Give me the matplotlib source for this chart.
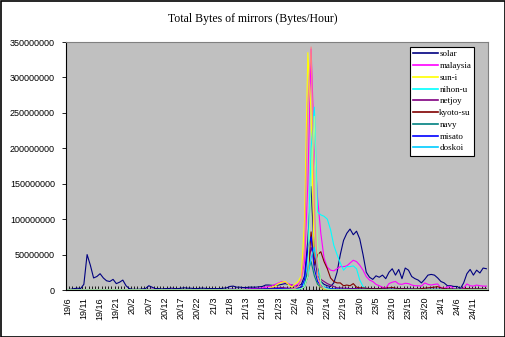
"""
Total Bytes of mirrors (Bytes/Hour) - hourly line chart, Excel style
"""
import numpy as np
import matplotlib
matplotlib.use('Agg')
import matplotlib.pyplot as plt
from matplotlib.patches import Rectangle

plt.rcParams['font.family'] = 'Liberation Sans'
plt.rcParams['font.size'] = 7

# hourly values in millions of bytes, 130 hours starting at 19/6
solar = [
    0.5, 1.0, 2.0, 2.5, 2.0, 8.0, 50.0, 35.0, 17.0, 19.0,
    23.0, 17.0, 13.0, 12.0, 15.0, 9.0, 11.0, 14.0, 6.0, 2.0,
    1.0, 1.0, 1.0, 1.5, 2.0, 6.0, 4.0, 2.0, 2.0, 1.5,
    2.0, 2.0, 2.5, 2.0, 2.0, 2.5, 3.0, 2.5, 2.5, 2.0,
    2.0, 2.5, 2.5, 2.0, 2.0, 2.0, 2.0, 2.0, 2.5, 3.0,
    5.0, 5.5, 4.0, 4.0, 3.5, 3.5, 4.0, 4.0, 4.0, 4.5,
    5.0, 7.0, 7.0, 6.5, 6.5, 7.0, 8.0, 9.0, 8.0, 7.0,
    6.0, 6.0, 8.0, 20.0, 70.0, 146.0, 50.0, 20.0, 12.0, 8.0,
    6.0, 5.0, 10.0, 25.0, 50.0, 70.0, 80.0, 86.0, 78.0, 83.0,
    72.0, 50.0, 25.0, 18.0, 15.0, 20.0, 18.0, 21.0, 16.0, 25.0,
    30.0, 21.0, 29.0, 16.0, 31.0, 28.0, 19.0, 16.0, 14.0, 10.0,
    15.0, 21.0, 22.0, 21.0, 17.0, 12.0, 10.0, 6.0, 6.0, 5.0,
    5.0, 2.0, 10.0, 23.0, 29.0, 21.0, 28.0, 24.0, 31.0, 30.0,
]
malaysia = [
    0.2, 0.2, 0.2, 0.2, 0.2, 0.2, 0.2, 0.2, 0.2, 0.2,
    0.2, 0.2, 0.2, 0.2, 0.2, 0.2, 0.2, 0.2, 0.2, 0.2,
    0.2, 0.2, 0.2, 0.2, 0.2, 0.8, 1.0, 0.6, 0.5, 0.5,
    0.5, 0.6, 0.8, 0.6, 0.5, 0.5, 0.6, 0.5, 0.5, 0.5,
    0.5, 0.6, 0.5, 0.5, 0.5, 0.6, 0.5, 0.5, 0.5, 0.6,
    0.8, 0.8, 0.6, 0.6, 0.8, 1.0, 1.5, 2.0, 2.0, 2.5,
    3.0, 4.0, 5.0, 6.0, 8.0, 10.0, 12.0, 11.0, 9.0, 7.0,
    6.0, 8.0, 15.0, 40.0, 150.0, 340.0, 200.0, 130.0, 80.0, 45.0,
    32.0, 28.0, 27.0, 30.0, 33.0, 33.0, 34.0, 38.0, 42.0, 40.0,
    35.0, 28.0, 19.0, 14.0, 12.0, 8.0, 6.0, 4.0, 2.5, 9.0,
    11.0, 12.0, 8.5, 8.0, 9.5, 9.0, 7.0, 6.0, 6.0, 5.5,
    10.0, 8.0, 7.0, 8.0, 8.5, 3.0, 2.5, 4.0, 5.0, 2.0,
    0.5, 0.5, 3.0, 8.5, 6.0, 5.5, 7.0, 6.0, 5.5, 5.5,
]
sun_i = [
    0.1, 0.1, 0.1, 0.1, 0.1, 0.1, 0.1, 0.1, 0.1, 0.1,
    0.1, 0.1, 0.1, 0.1, 0.1, 0.1, 0.1, 0.1, 0.1, 0.1,
    0.1, 0.1, 0.1, 0.1, 0.1, 0.1, 0.1, 0.1, 0.1, 0.1,
    0.1, 0.1, 0.1, 0.1, 0.1, 0.1, 0.1, 0.1, 0.1, 0.1,
    0.1, 0.1, 0.1, 0.1, 0.1, 0.1, 0.1, 0.1, 0.1, 0.1,
    0.1, 0.1, 0.1, 0.1, 0.1, 0.2, 0.2, 0.3, 0.3, 0.4,
    0.5, 1.0, 2.0, 4.0, 6.0, 9.0, 11.0, 12.0, 8.0, 4.0,
    8.0, 12.0, 20.0, 100.0, 335.0, 250.0, 30.0, 8.0, 3.0, 1.0,
    0.5, 0.4, 0.3, 0.3, 0.3, 0.3, 0.3, 0.3, 0.3, 0.3,
    0.3, 0.3, 0.3, 0.3, 0.3, 0.3, 0.3, 0.3, 0.3, 0.3,
    0.3, 0.3, 0.3, 0.3, 0.3, 0.3, 0.3, 0.3, 0.3, 0.3,
    0.3, 0.3, 0.3, 0.3, 0.3, 0.3, 0.3, 0.3, 0.3, 0.3,
    0.3, 0.3, 0.3, 0.3, 0.3, 0.3, 0.3, 0.3, 0.3, 0.3,
]
nihon_u = [
    0.1, 0.1, 0.1, 0.1, 0.1, 0.1, 0.1, 0.1, 0.1, 0.1,
    0.1, 0.1, 0.1, 0.1, 0.1, 0.1, 0.1, 0.1, 0.1, 0.1,
    0.1, 0.1, 0.1, 0.1, 0.1, 0.5, 0.6, 0.5, 0.5, 0.4,
    0.5, 0.5, 0.5, 0.4, 0.5, 0.5, 0.5, 0.5, 0.4, 0.5,
    0.5, 0.5, 0.5, 0.5, 0.4, 0.5, 0.5, 0.5, 0.5, 0.5,
    0.5, 0.6, 0.5, 0.5, 0.5, 0.5, 0.6, 0.5, 0.5, 0.6,
    0.8, 1.0, 1.2, 1.5, 1.5, 2.0, 2.0, 1.8, 1.5, 1.5,
    2.0, 2.0, 3.0, 10.0, 40.0, 200.0, 258.0, 110.0, 106.0, 104.0,
    100.0, 85.0, 63.0, 50.0, 38.0, 28.0, 33.0, 33.0, 34.0, 30.0,
    14.0, 5.0, 2.0, 1.0, 1.0, 1.0, 1.0, 1.0, 1.0, 1.0,
    1.0, 1.0, 1.0, 1.0, 1.0, 1.0, 1.0, 1.0, 1.0, 1.0,
    1.0, 1.0, 1.0, 1.0, 1.0, 1.0, 1.0, 1.0, 1.0, 1.0,
    1.0, 1.0, 1.0, 1.0, 1.0, 1.0, 1.0, 1.0, 1.0, 1.0,
]
netjoy = [
    0.3, 0.3, 0.3, 0.3, 0.3, 0.3, 0.3, 0.3, 0.3, 0.3,
    0.3, 0.3, 0.3, 0.3, 0.3, 0.3, 0.3, 0.3, 0.3, 0.3,
    0.3, 0.3, 0.3, 0.3, 0.3, 0.6, 0.8, 0.6, 0.5, 0.5,
    0.5, 0.5, 0.6, 0.5, 0.5, 0.5, 0.5, 0.6, 0.5, 0.5,
    0.5, 0.5, 0.5, 0.6, 0.5, 0.5, 0.5, 0.5, 0.5, 0.6,
    0.8, 1.0, 0.8, 0.8, 0.8, 1.0, 1.0, 1.2, 1.2, 1.5,
    1.5, 2.0, 2.0, 2.5, 3.0, 3.0, 3.5, 3.0, 2.5, 2.5,
    2.5, 3.0, 4.0, 5.0, 30.0, 60.0, 45.0, 31.0, 15.0, 12.0,
    9.0, 7.0, 5.0, 3.0, 3.0, 2.5, 2.5, 2.0, 2.0, 2.0,
    1.5, 1.5, 1.5, 1.0, 1.0, 1.0, 1.0, 1.0, 1.0, 1.0,
    1.0, 1.0, 1.0, 1.0, 1.0, 1.0, 1.0, 1.0, 1.0, 1.0,
    1.0, 1.0, 1.0, 1.0, 1.0, 1.0, 1.0, 1.0, 1.0, 1.0,
    1.0, 1.0, 1.0, 1.0, 1.0, 1.0, 1.0, 1.0, 1.0, 1.0,
]
kyoto_su = [
    0.1, 0.1, 0.1, 0.1, 0.1, 0.1, 0.1, 0.1, 0.1, 0.1,
    0.1, 0.1, 0.1, 0.1, 0.1, 0.1, 0.1, 0.1, 0.1, 0.1,
    0.1, 0.1, 0.1, 0.1, 0.1, 0.1, 0.1, 0.1, 0.1, 0.1,
    0.1, 0.1, 0.1, 0.1, 0.1, 0.1, 0.1, 0.1, 0.1, 0.1,
    0.1, 0.1, 0.1, 0.1, 0.1, 0.1, 0.1, 0.1, 0.1, 0.5,
    0.8, 0.5, 0.2, 0.2, 0.2, 0.3, 0.3, 0.4, 0.5, 0.5,
    0.6, 0.8, 1.0, 1.0, 1.2, 1.5, 1.5, 2.0, 1.5, 1.5,
    1.5, 2.0, 3.0, 5.0, 20.0, 82.0, 35.0, 50.0, 54.0, 40.0,
    30.0, 17.0, 12.0, 10.0, 10.0, 6.0, 7.0, 6.0, 9.0, 4.0,
    3.0, 3.0, 2.5, 2.0, 2.0, 2.0, 2.0, 2.5, 2.5, 3.0,
    3.5, 2.5, 2.0, 2.0, 2.0, 1.5, 1.5, 1.5, 1.5, 2.0,
    2.5, 3.0, 3.5, 4.0, 4.7, 3.0, 2.0, 1.5, 1.5, 1.0,
    1.0, 1.0, 1.5, 2.0, 1.5, 1.5, 1.5, 1.5, 1.5, 1.5,
]
navy = [
    0.2, 0.2, 0.2, 0.2, 0.2, 0.2, 0.2, 0.2, 0.2, 0.2,
    0.2, 0.2, 0.2, 0.2, 0.2, 0.2, 0.2, 0.2, 0.2, 0.2,
    0.2, 0.2, 0.2, 0.2, 0.2, 0.5, 0.6, 0.4, 0.4, 0.4,
    0.4, 0.4, 0.4, 0.4, 0.4, 0.4, 0.4, 0.4, 0.4, 0.4,
    0.4, 0.4, 0.4, 0.4, 0.4, 0.4, 0.4, 0.4, 0.4, 0.4,
    0.5, 0.5, 0.5, 0.5, 0.5, 0.5, 0.5, 0.5, 0.5, 0.6,
    0.6, 0.8, 0.8, 0.8, 1.0, 1.0, 1.0, 1.0, 1.0, 1.0,
    1.0, 1.5, 2.0, 5.0, 26.0, 40.0, 20.0, 8.0, 4.0, 2.0,
    1.5, 1.0, 1.0, 0.8, 0.8, 0.8, 0.6, 0.6, 0.6, 0.6,
    0.5, 0.5, 0.5, 0.5, 0.5, 0.5, 0.5, 0.5, 0.5, 0.5,
    0.5, 0.5, 0.5, 0.5, 0.5, 0.5, 0.5, 0.5, 0.5, 0.5,
    0.5, 0.5, 0.5, 0.5, 0.5, 0.5, 0.5, 0.5, 0.5, 0.5,
    0.5, 0.5, 0.5, 0.5, 0.5, 0.5, 0.5, 0.5, 0.5, 0.5,
]
misato = [
    0.5, 0.6, 0.5, 0.5, 0.6, 0.5, 0.5, 0.5, 0.6, 0.5,
    0.5, 0.5, 0.5, 0.6, 0.5, 0.5, 0.5, 0.5, 0.5, 0.5,
    0.5, 0.5, 0.5, 0.5, 0.5, 0.8, 0.8, 0.6, 0.6, 0.5,
    0.5, 0.6, 0.6, 0.5, 0.5, 0.6, 0.6, 0.5, 0.5, 0.5,
    0.5, 0.5, 0.6, 0.6, 0.5, 0.5, 0.5, 0.5, 0.5, 0.8,
    1.0, 1.0, 0.8, 0.8, 0.8, 1.0, 1.0, 1.0, 1.0, 1.2,
    1.2, 1.5, 1.5, 1.5, 1.8, 2.0, 2.0, 2.0, 1.8, 1.8,
    2.0, 2.5, 4.0, 15.0, 59.0, 75.0, 30.0, 12.0, 6.0, 4.0,
    3.0, 2.0, 1.5, 1.5, 1.2, 1.0, 1.0, 1.0, 1.0, 1.0,
    1.0, 1.0, 1.0, 1.0, 1.0, 1.0, 1.0, 1.0, 1.0, 1.0,
    1.0, 1.0, 1.0, 1.0, 1.0, 1.0, 1.0, 0.8, 0.8, 0.8,
    0.8, 0.8, 0.8, 0.8, 0.8, 0.8, 0.8, 0.8, 0.8, 0.8,
    0.8, 0.8, 0.8, 0.8, 0.8, 0.8, 0.8, 0.8, 0.8, 0.8,
]
doskoi = [
    0.2, 0.2, 0.2, 0.2, 0.2, 0.2, 0.2, 0.2, 0.2, 0.2,
    0.2, 0.2, 0.2, 0.2, 0.2, 0.2, 0.2, 0.2, 0.2, 0.2,
    0.2, 0.2, 0.2, 0.2, 0.2, 0.3, 0.3, 0.3, 0.3, 0.3,
    0.3, 0.3, 0.3, 0.3, 0.3, 0.3, 0.3, 0.3, 0.3, 0.3,
    0.3, 0.3, 0.3, 0.3, 0.3, 0.3, 0.3, 0.3, 0.3, 0.3,
    0.3, 0.3, 0.3, 0.3, 0.3, 0.3, 0.3, 0.3, 0.3, 0.3,
    0.4, 0.4, 0.5, 0.5, 0.5, 0.6, 0.6, 0.6, 0.6, 0.6,
    0.8, 1.0, 2.0, 5.0, 20.0, 45.0, 60.0, 30.0, 10.0, 4.0,
    2.0, 1.0, 0.8, 0.6, 0.6, 0.6, 0.5, 0.5, 0.5, 0.5,
    0.5, 0.5, 0.5, 0.5, 0.5, 0.5, 0.5, 0.5, 0.5, 0.5,
    0.5, 0.5, 0.5, 0.5, 0.5, 0.5, 0.5, 0.5, 0.5, 0.5,
    0.5, 0.5, 0.5, 0.5, 0.5, 0.5, 0.5, 0.5, 0.5, 0.5,
    0.5, 0.5, 0.5, 0.5, 0.5, 0.5, 0.5, 0.5, 0.5, 0.5,
]
# two more series that are drawn but cut off the legend box
extra_pink = [
    0.1, 0.1, 0.1, 0.1, 0.1, 0.1, 0.1, 0.1, 0.1, 0.1,
    0.1, 0.1, 0.1, 0.1, 0.1, 0.1, 0.1, 0.1, 0.1, 0.1,
    0.1, 0.1, 0.1, 0.1, 0.1, 0.1, 0.1, 0.1, 0.1, 0.1,
    0.1, 0.1, 0.1, 0.1, 0.1, 0.1, 0.1, 0.1, 0.1, 0.1,
    0.1, 0.1, 0.1, 0.1, 0.1, 0.1, 0.1, 0.1, 0.1, 0.1,
    0.1, 0.1, 0.1, 0.1, 0.1, 0.1, 0.1, 0.1, 0.1, 0.1,
    0.2, 0.2, 0.3, 0.3, 0.5, 0.5, 0.8, 1.0, 1.0, 1.5,
    2.0, 5.0, 15.0, 60.0, 260.0, 343.0, 120.0, 20.0, 5.0, 2.0,
    1.0, 0.5, 0.3, 0.2, 0.2, 0.2, 0.2, 0.2, 0.2, 0.2,
    0.2, 0.2, 0.2, 0.2, 0.2, 0.2, 0.2, 0.2, 0.2, 0.2,
    0.2, 0.2, 0.2, 0.2, 0.2, 0.2, 0.2, 0.2, 0.2, 0.2,
    0.2, 0.2, 0.2, 0.2, 0.2, 0.2, 0.2, 0.2, 0.2, 0.2,
    0.2, 0.2, 0.2, 0.2, 0.2, 0.2, 0.2, 0.2, 0.2, 0.2,
]
extra_green = [
    0.1, 0.1, 0.1, 0.1, 0.1, 0.1, 0.1, 0.1, 0.1, 0.1,
    0.1, 0.1, 0.1, 0.1, 0.1, 0.1, 0.1, 0.1, 0.1, 0.1,
    0.1, 0.1, 0.1, 0.1, 0.1, 0.1, 0.1, 0.1, 0.1, 0.1,
    0.1, 0.1, 0.1, 0.1, 0.1, 0.1, 0.1, 0.1, 0.1, 0.1,
    0.1, 0.1, 0.1, 0.1, 0.1, 0.1, 0.1, 0.1, 0.1, 0.1,
    0.1, 0.1, 0.1, 0.1, 0.1, 0.1, 0.1, 0.1, 0.1, 0.1,
    0.1, 0.1, 0.2, 0.2, 0.3, 0.3, 0.4, 0.5, 0.5, 0.5,
    0.8, 1.0, 2.0, 5.0, 20.0, 150.0, 245.0, 60.0, 10.0, 3.0,
    1.0, 0.5, 0.3, 0.2, 0.2, 0.2, 0.2, 0.2, 0.2, 0.2,
    0.2, 0.2, 0.2, 0.2, 0.2, 0.2, 0.2, 0.2, 0.2, 0.2,
    0.2, 0.2, 0.2, 0.2, 0.2, 0.2, 0.2, 0.2, 0.2, 0.2,
    0.2, 0.2, 0.2, 0.2, 0.2, 0.2, 0.2, 0.2, 0.2, 0.2,
    0.2, 0.2, 0.2, 0.2, 0.2, 0.2, 0.2, 0.2, 0.2, 0.2,
]

series_names = ['solar', 'malaysia', 'sun-i', 'nihon-u', 'netjoy',
                'kyoto-su', 'navy', 'misato', 'doskoi']
series_values = [solar, malaysia, sun_i, nihon_u, netjoy,
                 kyoto_su, navy, misato, doskoi]
series_colors = ['#000080', '#FF00FF', '#FFFF00', '#00FFFF', '#800080',
                 '#800000', '#008080', '#0000FF', '#00CCFF']

tick_labels = ['19/6', '19/11', '19/16', '19/21', '20/2', '20/7', '20/12',
               '20/17', '20/22', '21/3', '21/8', '21/13', '21/18', '21/23',
               '22/4', '22/9', '22/14', '22/19', '23/0', '23/5', '23/10',
               '23/15', '23/20', '24/1', '24/6', '24/11']
label_step = 5

n = len(solar)
x = np.arange(n)

fig = plt.figure(figsize=(5.06, 3.37), dpi=100)
fig.patch.set_facecolor('white')
ax = fig.add_axes([66 / 506, 1 - 290 / 337, 422 / 506, 248 / 337])
ax.set_facecolor('#C0C0C0')

lines = []
for name, vals, col in zip(series_names, series_values, series_colors):
    ln, = ax.plot(x, np.array(vals) * 1e6, color=col, linewidth=0.8, label=name)
    lines.append(ln)
ax.plot(x, np.array(extra_pink) * 1e6, color='#FF8080', linewidth=0.8)
ax.plot(x, np.array(extra_green) * 1e6, color='#99FF99', linewidth=0.8)

ax.set_xlim(-0.5, n - 0.5)
ax.set_ylim(0, 350e6)
ax.set_yticks(np.arange(0, 350e6 + 1, 50e6))
ax.ticklabel_format(axis='y', style='plain', useOffset=False)

ax.set_xticks(np.arange(0, len(tick_labels) * label_step, label_step))
ax.set_xticklabels(tick_labels, rotation=90, fontsize=6.5)
ax.set_xticks(np.arange(-0.5, n, 1), minor=True)
ax.tick_params(axis='x', which='major', length=0, pad=5)
ax.tick_params(axis='x', which='minor', length=3, direction='in', width=0.6)
ax.tick_params(axis='y', length=3, direction='out', width=0.6, labelsize=6.5, pad=5)

for side in ['top', 'right']:
    ax.spines[side].set_color('#808080')
for side in ['left', 'bottom']:
    ax.spines[side].set_color('black')
for sp in ax.spines.values():
    sp.set_linewidth(0.8)

fig.text(253 / 506, 1 - 19 / 337, 'Total Bytes of mirrors (Bytes/Hour)',
         ha='center', va='center', fontsize=8.5, family='Liberation Serif')

leg = ax.legend(handles=lines, loc='upper left',
                bbox_to_anchor=(410 / 506, 1 - 47 / 337),
                bbox_transform=fig.transFigure,
                prop={'family': 'Liberation Serif', 'size': 6.5},
                frameon=True, fancybox=False, framealpha=1,
                edgecolor='black', handlelength=2.8, handletextpad=0.1,
                labelspacing=0.38, borderpad=0.35, borderaxespad=0)
leg.get_frame().set_linewidth(0.8)
for h in leg.get_lines():
    h.set_linewidth(1.2)

fig.patches.append(Rectangle((0.001, 0.001), 0.997, 0.996, transform=fig.transFigure,
                             fill=False, edgecolor='black', linewidth=1.2))

plt.savefig('out.png', dpi=100)
plt.close()
